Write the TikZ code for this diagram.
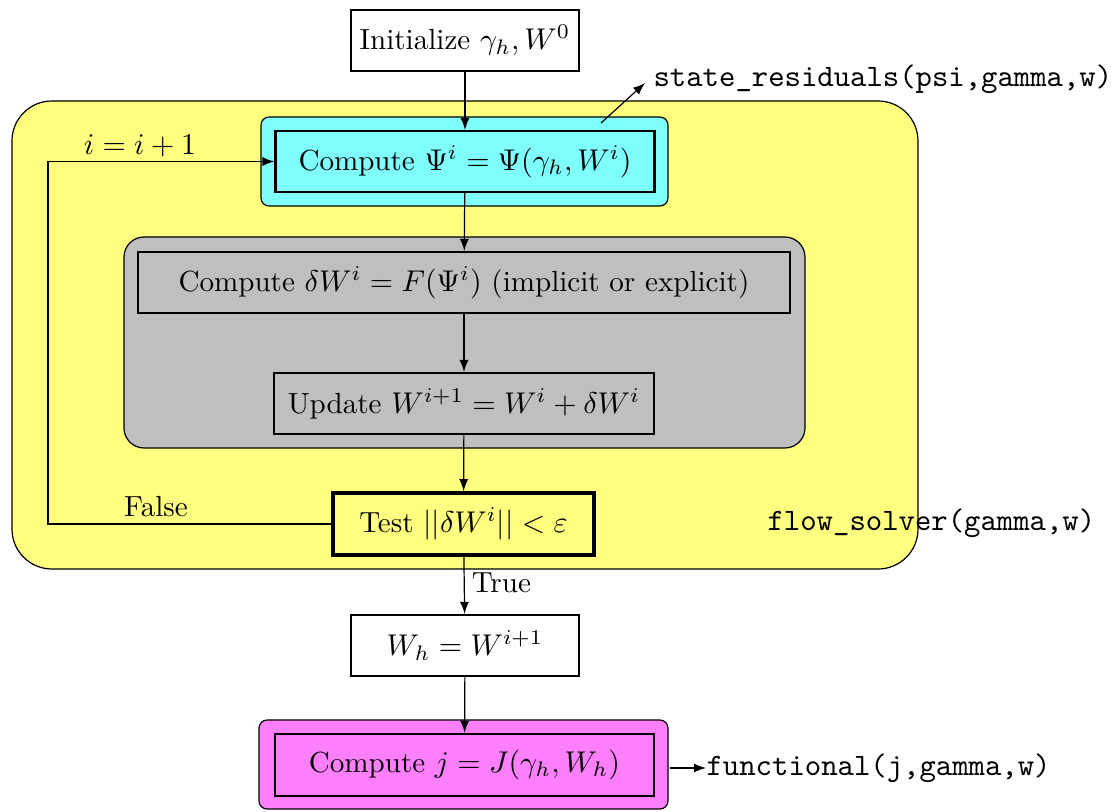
\documentclass[tikz,border=0pt]{standalone}
\usetikzlibrary{arrows.meta}
\definecolor{solverbg}{RGB}{255,255,128}
\definecolor{residbg}{RGB}{128,255,255}
\definecolor{updatebg}{RGB}{191,191,191}
\definecolor{funcbg}{RGB}{255,128,255}
\begin{document}
\begin{tikzpicture}[x=0.33333pt,y=-0.33333pt,
  >=latex,
  every node/.style={font=\fontsize{9.7}{12}\selectfont},
  conn/.style={->, line width=0.4pt},
  stepbox/.style={draw, thick, rectangle, inner sep=0pt,
    minimum height=20.3pt},
  testbox/.style={draw, very thick, rectangle, inner sep=0pt,
    minimum height=20.7pt},
  groupbox/.style={draw, line width=0.4pt},
  code/.style={font=\fontsize{10.4}{12}\selectfont\ttfamily, inner sep=0pt, anchor=west}]
  \useasboundingbox (0,0) rectangle (1112,812);

  % grouping backgrounds
  \draw[groupbox, fill=solverbg, rounded corners=13.3pt] (12,101) rectangle (918,569);
  \draw[groupbox, fill=residbg, rounded corners=2.7pt] (261,117) rectangle (668,206);
  \draw[groupbox, fill=updatebg, rounded corners=6.7pt] (124,237) rectangle (805,448);
  \draw[groupbox, fill=funcbg, rounded corners=2.7pt] (259,720) rectangle (668,809);

  % steps
  \node[stepbox, minimum width=76pt] (init) at (465,40.5) {Initialize $\gamma_h, W^0$};
  \node[stepbox, minimum width=126.3pt] (psi) at (465,161.5) {Compute $\Psi^i = \Psi(\gamma_h, W^i)$};
  \node[stepbox, minimum width=217.3pt] (dw) at (464,282.5) {Compute $\delta W^i = F(\Psi^i)$ (implicit or explicit)};
  \node[stepbox, minimum width=126.7pt] (upd) at (464,403.5) {Update $W^{i+1} = W^i + \delta W^i$};
  \node[testbox, minimum width=87pt] (test) at (463.5,524) {Test $||\delta W^i|| < \varepsilon$};
  \node[stepbox, minimum width=76pt] (wh) at (465,645.5) {$W_h = W^{i+1}$};
  \node[stepbox, minimum width=126.3pt, minimum height=20.7pt] (jfun) at (464.5,765) {Compute $j = J(\gamma_h, W_h)$};

  % main flow
  \draw[conn] (init) -- (psi);
  \draw[conn] (psi) -- (dw);
  \draw[conn] (dw) -- (upd);
  \draw[conn] (upd) -- (test);
  \draw[conn] (test) -- node[right, pos=0.45, xshift=-1pt] (tlab) {True} (wh);
  \draw[conn] (wh) -- (jfun);

  % iteration loop
  \coordinate (lb) at (48,524);
  \coordinate (lt) at (48,161.5);
  \draw[conn] (test.west) -- (lb) -- (lt) -- (psi.west);
  \node (flab) at (156,507) {False};
  \node (ilab) at (140,146) {$i = i+1$};

  % routine names
  \coordinate (sr0) at (601,123);
  \coordinate (sr1) at (645,83);
  \draw[conn] (sr0) -- (sr1);
  \node[code] (sr) at (653,79) {state\_residuals(psi,gamma,w)};
  \node[code] (fs) at (767,523) {flow\_solver(gamma,w)};
  \coordinate (fn0) at (670,768);
  \node[code] (fn) at (706,768) {functional(j,gamma,w)};
  \draw[conn] (fn0) -- (fn.west);
\end{tikzpicture}
\end{document}
